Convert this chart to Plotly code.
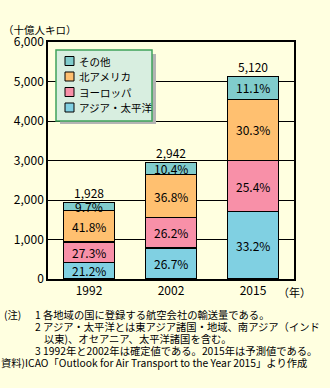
import plotly.graph_objects as go

years = ["1992", "2002", "2015"]
totals = [1928, 2942, 5120]
series_names = ["アジア・太平洋", "ヨーロッパ", "北アメリカ", "その他"]
shares = {
    "アジア・太平洋": [21.2, 26.7, 33.2],
    "ヨーロッパ": [27.3, 26.2, 25.4],
    "北アメリカ": [41.8, 36.8, 30.3],
    "その他": [9.7, 10.4, 11.1],
}
colors = {
    "アジア・太平洋": "#80D0E2",
    "ヨーロッパ": "#F890A8",
    "北アメリカ": "#FFC070",
    "その他": "#80CCCC",
}
y_ticks = [0, 1000, 2000, 3000, 4000, 5000, 6000]
y_tick_labels = ["0", "1,000", "2,000", "3,000", "4,000", "5,000", "6,000"]
notes = [
    (3, "(注)"),
    (34, "1 各地域の国に登録する航空会社の輸送量である。"),
    (34, "2 アジア・太平洋とは東アジア諸国・地域、南アジア（インド"),
    (43, "以東)、オセアニア、太平洋諸国を含む。"),
    (34, "3 1992年と2002年は確定値である。2015年は予測値である。"),
    (0, "資料)ICAO「Outlook for Air Transport to the Year 2015」より作成"),
]

W_PX, H_PX = 330, 388
L, R, T, B = 48, 294, 42, 279
PW, PH = R - L, B - T
FONT = "Noto Sans CJK JP"


def px(xp):
    return (xp - L) / PW


def py(yp):
    return (B - yp) / PH


fig = go.Figure()
values = {n: [t * s / 100 for t, s in zip(totals, shares[n])] for n in series_names}
for n in series_names:
    fig.add_trace(go.Bar(
        x=years, y=values[n], name=n,
        marker=dict(color=colors[n], line=dict(color="black", width=1.2)),
        showlegend=False, hoverinfo="skip",
    ))

annotations = []
# percentage labels
for i, yr in enumerate(years):
    base = 0
    for n in series_names:
        v = values[n][i]
        annotations.append(dict(
            x=i, y=base + v / 2, xref="x", yref="y", text=f"{shares[n][i]}%",
            showarrow=False, borderpad=0, font=dict(family=FONT, size=12, color="black"),
        ))
        base += v
    annotations.append(dict(
        x=i, y=totals[i], xref="x", yref="y", text=f"{totals[i]:,}",
        showarrow=False, yanchor="bottom", yshift=1, borderpad=0,
        font=dict(family=FONT, size=12, color="black"),
    ))

# unit label
annotations.append(dict(x=px(2), y=py(29), xref="paper", yref="paper", text="（十億人キロ）",
                        showarrow=False, xanchor="left", yanchor="middle", borderpad=0,
                        font=dict(family=FONT, size=10.5, color="black")))
# year unit
annotations.append(dict(x=px(277), y=py(292), xref="paper", yref="paper", text="（年）",
                        showarrow=False, xanchor="left", yanchor="middle", borderpad=0,
                        font=dict(family=FONT, size=11, color="black")))

# notes
note_rows = [314, 314, 326, 338, 350, 362]
for (xp, txt), yp in zip(notes, note_rows):
    annotations.append(dict(x=px(xp), y=py(yp), xref="paper", yref="paper", text=txt,
                            showarrow=False, xanchor="left", yanchor="middle", borderpad=0,
                            font=dict(family=FONT, size=10.3, color="black")))

# custom legend
shapes = []
shapes.append(dict(type="rect", xref="paper", yref="paper", x0=px(60), x1=px(156),
                   y0=py(124), y1=py(54), fillcolor="#B4B4B4", line=dict(width=0), layer="above"))
shapes.append(dict(type="rect", xref="paper", yref="paper", x0=px(56), x1=px(152),
                   y0=py(121), y1=py(50), fillcolor="#D8EEE0",
                   line=dict(color="#3FA35A", width=1.5), layer="above"))
legend_rows = [61, 76.5, 92, 107.5]
for n, yp in zip(series_names[::-1], legend_rows):
    shapes.append(dict(type="rect", xref="paper", yref="paper", x0=px(65), x1=px(74),
                       y0=py(yp + 4.5), y1=py(yp - 4.5), fillcolor=colors[n],
                       line=dict(color="black", width=1), layer="above"))
    annotations.append(dict(x=px(78), y=py(yp), xref="paper", yref="paper", text=n,
                            showarrow=False, xanchor="left", yanchor="middle", borderpad=0,
                            font=dict(family=FONT, size=10.5, color="black")))

fig.update_layout(
    width=W_PX, height=H_PX,
    margin=dict(l=L, r=W_PX - R, t=T, b=H_PX - B, pad=0),
    paper_bgcolor="#FFFFE0", plot_bgcolor="#FFFFE0",
    barmode="stack", bargap=0.378,
    annotations=annotations, shapes=shapes,
    showlegend=False,
    xaxis=dict(type="category", range=[-0.5, 2.5], showline=True, linecolor="black",
               linewidth=1.5, mirror=True,
               ticks="", tickfont=dict(family=FONT, size=12, color="black"), showgrid=False),
    yaxis=dict(range=[0, 6000], tickvals=y_ticks, ticktext=y_tick_labels,
               showline=True, linecolor="black", linewidth=1.5, mirror=True,
               showgrid=True, gridcolor="black", gridwidth=1, zeroline=False,
               ticks="", tickfont=dict(family=FONT, size=12, color="black")),
)

fig.write_html("out.html")
